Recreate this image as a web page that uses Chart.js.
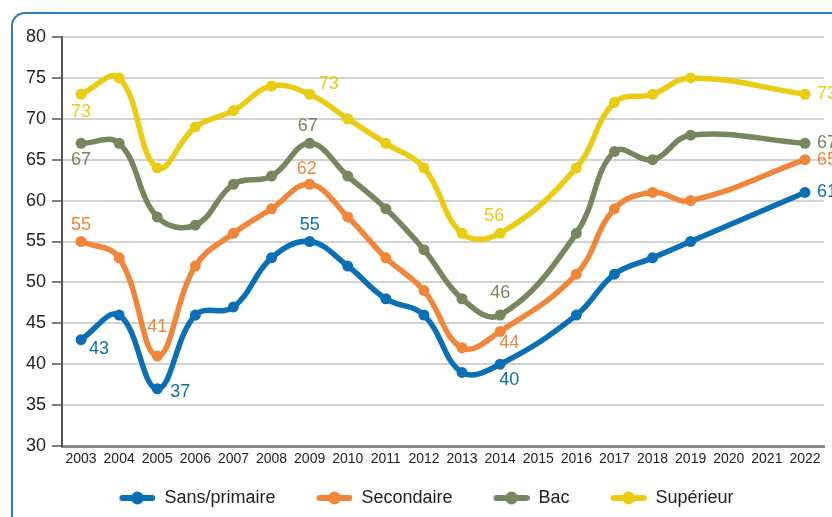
<!DOCTYPE html>
<html>
<head>
<meta charset="utf-8">
<script src="https://cdn.jsdelivr.net/npm/chart.js@4/dist/chart.umd.min.js"></script>
<style>
  html, body { margin:0; padding:0; background:#fff; width:832px; height:517px; overflow:hidden; }
  #frame { position:absolute; left:11px; top:12px; width:900px; height:600px; border:2px solid #2a7cc0; border-radius:14px; box-sizing:border-box; }
  #wrap { position:absolute; left:0; top:0; width:832px; height:517px; }
</style>
</head>
<body>
<div id="frame"></div>
<div id="wrap"><canvas id="c" width="832" height="517"></canvas></div>
<script>
const years = ['2003','2004','2005','2006','2007','2008','2009','2010','2011','2012','2013','2014','2015','2016','2017','2018','2019','2020','2021','2022'];
const seriesNames = ['Sans/primaire','Secondaire','Bac','Supérieur'];
const sansPrimaire = [43,46,37,46,47,53,55,52,48,46,39,40,null,46,51,53,55,null,null,61];
const secondaire   = [55,53,41,52,56,59,62,58,53,49,42,44,null,51,59,61,60,null,null,65];
const bac          = [67,67,58,57,62,63,67,63,59,54,48,46,null,56,66,65,68,null,null,67];
const superieur    = [73,75,64,69,71,74,73,70,67,64,56,56,null,64,72,73,75,null,null,73];
const yTicks = [30,35,40,45,50,55,60,65,70,75,80];

const colors = ['#0b6fb6','#f1863a','#76875d','#eacc12'];
const FONT = "'Liberation Sans','Arimo',Arial,sans-serif";

// which values get a label: [series, yearIndex, dx, dy, align]
const labelSpots = [
  [0,0,18,9,'center'],[0,2,23,3,'center'],[0,6,0,-16,'center'],[0,11,9,16,'center'],[0,19,12,0,'left'],
  [1,0,0,-16,'center'],[1,2,0,-29,'center'],[1,6,-3,-15,'center'],[1,11,9,12,'center'],[1,19,12,0,'left'],
  [2,0,0,17,'center'],[2,6,-2,-17,'center'],[2,11,0,-22,'center'],[2,19,12,0,'left'],
  [3,0,0,18,'center'],[3,6,19,-10,'center'],[3,11,-6,-17,'center'],[3,19,12,0,'left']
];

const BOXW = 65;
function markerImg(color){
  const c = document.createElement('canvas');
  c.width = BOXW; c.height = 16;
  const x = c.getContext('2d');
  const x0 = BOXW - 36;
  x.strokeStyle = color; x.lineWidth = 6; x.lineCap = 'round';
  x.beginPath(); x.moveTo(x0 + 3, 8); x.lineTo(x0 + 33, 8); x.stroke();
  x.fillStyle = color; x.beginPath(); x.arc(x0 + 18, 8, 6.5, 0, Math.PI*2); x.fill();
  return c;
}

const allData = [sansPrimaire, secondaire, bac, superieur];
const datasets = allData.map((d,i)=>({
  label: seriesNames[i],
  data: d,
  borderColor: colors[i],
  backgroundColor: colors[i],
  pointBackgroundColor: colors[i],
  pointBorderColor: colors[i],
  borderWidth: 5.5,
  pointRadius: 5.5,
  pointBorderWidth: 0,
  tension: 0.4,
  spanGaps: true,
  fill: false
}));

const labelPlugin = {
  id: 'valueLabels',
  afterDatasetsDraw(chart){
    const ctx = chart.ctx;
    ctx.save();
    ctx.font = "18px " + FONT;
    ctx.textBaseline = 'middle';
    labelSpots.forEach(([s,i,dx,dy,al])=>{
      const el = chart.getDatasetMeta(s).data[i];
      ctx.fillStyle = colors[s];
      ctx.textAlign = al;
      ctx.fillText(String(allData[s][i]), el.x + dx, el.y + dy);
    });
    ctx.restore();
  }
};

new Chart(document.getElementById('c'), {
  type: 'line',
  data: { labels: years, datasets },
  options: {
    responsive: false,
    animation: false,
    layout: { padding: { top: 37, right: 8, bottom: 0, left: 0 } },
    plugins: {
      legend: {
        position: 'bottom',
        align: 'center',
        fullSize: true,
        labels: {
          usePointStyle: true,
          pointStyleWidth: BOXW,
          boxHeight: 12,
          padding: 12,
          color: '#222',
          font: { family: FONT, size: 18 },
          generateLabels(chart){
            return chart.data.datasets.map((ds,i)=>({
              text: ds.label,
              pointStyle: markerImg(colors[i]),
              fillStyle: colors[i],
              strokeStyle: colors[i],
              lineWidth: 0,
              hidden: false,
              datasetIndex: i,
              fontColor: '#222'
            }));
          }
        }
      },
      tooltip: { enabled: false }
    },
    scales: {
      x: {
        offset: true,
        grid: { display: false, drawTicks: false },
        border: { display: true, color: '#8a8a8a', width: 3 },
        ticks: { color: '#222', font: { family: FONT, size: 14 }, padding: 5, maxRotation: 0, autoSkip: false },
        afterFit(scale){ scale.height = 31; }
      },
      y: {
        min: 30, max: 80,
        afterBuildTicks(scale){ scale.ticks = yTicks.map(v=>({value:v})); },
        grid: { color: '#d2d2d2', lineWidth: 2, tickColor: '#555', tickLength: 10, tickWidth: 1.5 },
        border: { display: true, color: '#555', width: 2 },
        ticks: { color: '#222', font: { family: FONT, size: 18 }, padding: 6 },
        afterFit(scale){ scale.width = 62; }
      }
    }
  },
  plugins: [labelPlugin]
});
</script>
</body>
</html>
